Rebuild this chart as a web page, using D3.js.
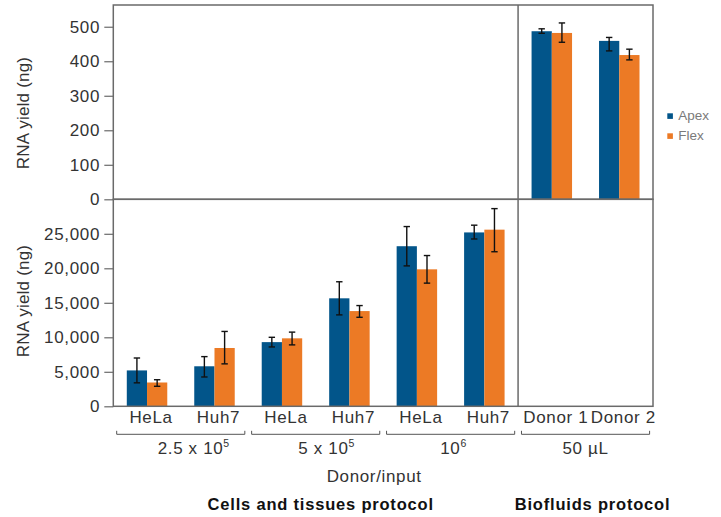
<!DOCTYPE html>
<html>
<head>
<meta charset="utf-8">
<script src="https://cdn.jsdelivr.net/npm/d3@7"></script>
<style>
  html, body { margin: 0; padding: 0; background: #fff; }
  svg { display: block; }
  text { font-family: "Liberation Sans", Arial, Helvetica, sans-serif; }
</style>
</head>
<body>
<svg id="chart" width="721" height="517"></svg>
<script>
// ---- data ----
const series = ["Apex", "Flex"];
const cellLabels = ["HeLa", "Huh7", "HeLa", "Huh7", "HeLa", "Huh7"];
const fluidLabels = ["Donor 1", "Donor 2"];
const cellGroups = [
  { base: "2.5 x 10", exp: "5" },
  { base: "5 x 10", exp: "5" },
  { base: "10", exp: "6" }
];
const fluidGroup = "50 µL";

// Cells and tissues protocol (ng)
const apexCells     = [5200, 5800, 9300, 15650, 23200, 25200];
const apexCellsLow  = [3400, 4250, 8600, 13250, 20350, 24250];
const apexCellsHigh = [7000, 7200, 10000, 18050, 26050, 26250];
const flexCells     = [3450, 8450, 9850, 13800, 19850, 25600];
const flexCellsLow  = [2900, 6150, 8900, 12900, 17850, 22400];
const flexCellsHigh = [3850, 10850, 10750, 14600, 21850, 28650];

// Biofluids protocol (ng)
const apexFluids     = [487, 459];
const apexFluidsLow  = [481, 430];
const apexFluidsHigh = [494, 469];
const flexFluids     = [482, 418];
const flexFluidsLow  = [455, 404];
const flexFluidsHigh = [511, 435];

const topTicks = [0, 100, 200, 300, 400, 500];
const bottomTicks = [0, 5000, 10000, 15000, 20000, 25000];

// ---- layout ----
const colors = { Apex: "#02558a", Flex: "#ec7a25" };
const frameColor = "#6a6a6a";
const textColor = "#333";
const fontSize = "17px";
const spacing = "0.65px";
const left = 113.3, right = 653;
const topY0 = 5, midY = 199.3, botY1 = 406.3;

const svg = d3.select("#chart");

const allCats = d3.range(cellLabels.length + fluidLabels.length);
const allLabels = cellLabels.concat(fluidLabels);
const x = d3.scaleBand().domain(allCats).range([left, right]).padding(0);
const xs = d3.scaleBand().domain(series)
  .range([x.bandwidth() * 0.2, x.bandwidth() * 0.8]).padding(0);
const divX = x(cellLabels.length);

const yTop = d3.scaleLinear().domain([0, 563]).range([midY, topY0]);
const yBot = d3.scaleLinear().domain([0, 30000]).range([botY1, midY]);

// rows for each panel
const cellRows = cellLabels.map((_, i) => ({
  cat: i,
  vals: [
    { s: "Apex", v: apexCells[i], lo: apexCellsLow[i], hi: apexCellsHigh[i] },
    { s: "Flex", v: flexCells[i], lo: flexCellsLow[i], hi: flexCellsHigh[i] }
  ]
}));
const fluidRows = fluidLabels.map((_, i) => ({
  cat: cellLabels.length + i,
  vals: [
    { s: "Apex", v: apexFluids[i], lo: apexFluidsLow[i], hi: apexFluidsHigh[i] },
    { s: "Flex", v: flexFluids[i], lo: flexFluidsLow[i], hi: flexFluidsHigh[i] }
  ]
}));

function drawBars(rows, y) {
  const g = svg.append("g");
  const grp = g.selectAll("g.cat").data(rows).join("g")
    .attr("class", "cat")
    .attr("transform", d => `translate(${x(d.cat)},0)`);
  grp.selectAll("rect").data(d => d.vals).join("rect")
    .attr("x", d => xs(d.s))
    .attr("width", xs.bandwidth())
    .attr("y", d => y(d.v))
    .attr("height", d => y(0) - y(d.v))
    .attr("fill", d => colors[d.s]);
  const eb = grp.selectAll("g.err").data(d => d.vals).join("g")
    .attr("class", "err")
    .attr("stroke", "#111").attr("stroke-width", 1.4);
  const cx = d => xs(d.s) + xs.bandwidth() / 2;
  eb.append("line")
    .attr("x1", cx).attr("x2", cx)
    .attr("y1", d => y(d.lo)).attr("y2", d => y(d.hi));
  eb.append("line")
    .attr("x1", d => cx(d) - 3.2).attr("x2", d => cx(d) + 3.2)
    .attr("y1", d => y(d.hi)).attr("y2", d => y(d.hi));
  eb.append("line")
    .attr("x1", d => cx(d) - 3.2).attr("x2", d => cx(d) + 3.2)
    .attr("y1", d => y(d.lo)).attr("y2", d => y(d.lo));
}

drawBars(fluidRows, yTop);
drawBars(cellRows, yBot);

// frames
const frame = svg.append("g").attr("fill", "none")
  .attr("stroke", frameColor).attr("stroke-width", 1.5);
frame.append("rect").attr("x", left).attr("y", topY0)
  .attr("width", right - left).attr("height", midY - topY0);
frame.append("rect").attr("x", left).attr("y", midY)
  .attr("width", right - left).attr("height", botY1 - midY);
frame.append("line").attr("x1", divX).attr("x2", divX)
  .attr("y1", topY0).attr("y2", botY1);

// y axes
function styleAxis(g) {
  g.select(".domain").remove();
  g.selectAll(".tick line").attr("stroke", frameColor).attr("stroke-width", 1.2);
  g.selectAll(".tick text")
    .attr("fill", textColor)
    .style("font-size", fontSize)
    .style("letter-spacing", spacing)
    .attr("x", -13.3);
}
svg.append("g").attr("transform", `translate(${left},0)`)
  .call(d3.axisLeft(yTop).tickValues(topTicks).tickSize(9).tickFormat(d3.format("d")))
  .call(styleAxis);
svg.append("g").attr("transform", `translate(${left},0)`)
  .call(d3.axisLeft(yBot).tickValues(bottomTicks).tickSize(9).tickFormat(d3.format(",")))
  .call(styleAxis);

// y titles
[[113, "RNA yield (ng)"], [301, "RNA yield (ng)"]].forEach(([cy, t]) => {
  svg.append("text")
    .attr("transform", `translate(28.5,${cy}) rotate(-90)`)
    .attr("text-anchor", "middle")
    .attr("fill", textColor)
    .style("font-size", fontSize)
    .style("letter-spacing", "0.2px")
    .text(t);
});

// category labels
svg.append("g").selectAll("text").data(allCats).join("text")
  .attr("x", d => x(d) + x.bandwidth() / 2 + 4)
  .attr("y", 423.3)
  .attr("text-anchor", "middle")
  .attr("fill", textColor)
  .style("font-size", fontSize)
  .style("letter-spacing", spacing)
  .text(d => allLabels[d]);

// group brackets
const groupSpans = [[0, 2], [2, 4], [4, 6], [6, 8]];
const br = svg.append("g").attr("fill", "none")
  .attr("stroke", "#555").attr("stroke-width", 1);
groupSpans.forEach(([a, b]) => {
  const x0 = x(a) + 3.4;
  const x1 = (b < allCats.length ? x(b) : right) - 3.4;
  br.append("path").attr("d", `M${x0},430.8V434.3H${x1}V430.8`);
});

// group labels
const groupText = svg.append("g").attr("fill", textColor)
  .style("font-size", fontSize).style("letter-spacing", spacing);
const groupNudge = [13, 11, 3, 0];
cellGroups.forEach((gd, i) => {
  const [a, b] = groupSpans[i];
  const cx = (x(a) + (b < allCats.length ? x(b) : right)) / 2 + groupNudge[i];
  const t = groupText.append("text").attr("x", cx).attr("y", 454.3)
    .attr("text-anchor", "middle");
  t.append("tspan").text(gd.base);
  t.append("tspan").attr("dy", -7).style("font-size", "10.5px").text(gd.exp);
});
{
  const [a] = groupSpans[3];
  groupText.append("text")
    .attr("x", (x(a) + right) / 2 + groupNudge[3]).attr("y", 454.3)
    .attr("text-anchor", "middle").text(fluidGroup);
}

// x title
svg.append("text")
  .attr("x", (left + right) / 2 - 9).attr("y", 481.7)
  .attr("text-anchor", "middle").attr("fill", textColor)
  .style("font-size", fontSize).style("letter-spacing", spacing)
  .text("Donor/input");

// protocol titles
svg.append("text")
  .attr("x", (left + divX) / 2 + 5).attr("y", 509.5)
  .attr("text-anchor", "middle").attr("fill", "#111")
  .style("font-size", "16.5px").style("font-weight", "bold")
  .style("letter-spacing", "0.8px")
  .text("Cells and tissues protocol");
svg.append("text")
  .attr("x", (divX + right) / 2 + 7).attr("y", 509.5)
  .attr("text-anchor", "middle").attr("fill", "#111")
  .style("font-size", "16.5px").style("font-weight", "bold")
  .style("letter-spacing", "0.8px")
  .text("Biofluids protocol");

// legend
const legend = svg.append("g").attr("transform", "translate(667.3,113.3)");
series.forEach((s, i) => {
  const row = legend.append("g").attr("transform", `translate(0,${i * 20})`);
  row.append("rect").attr("width", 5.6).attr("height", 5.6).attr("fill", colors[s]);
  row.append("text").attr("x", 11).attr("y", 6.2)
    .attr("fill", "#7a7a7a").style("font-size", "13.5px").text(s);
});
</script>
</body>
</html>
